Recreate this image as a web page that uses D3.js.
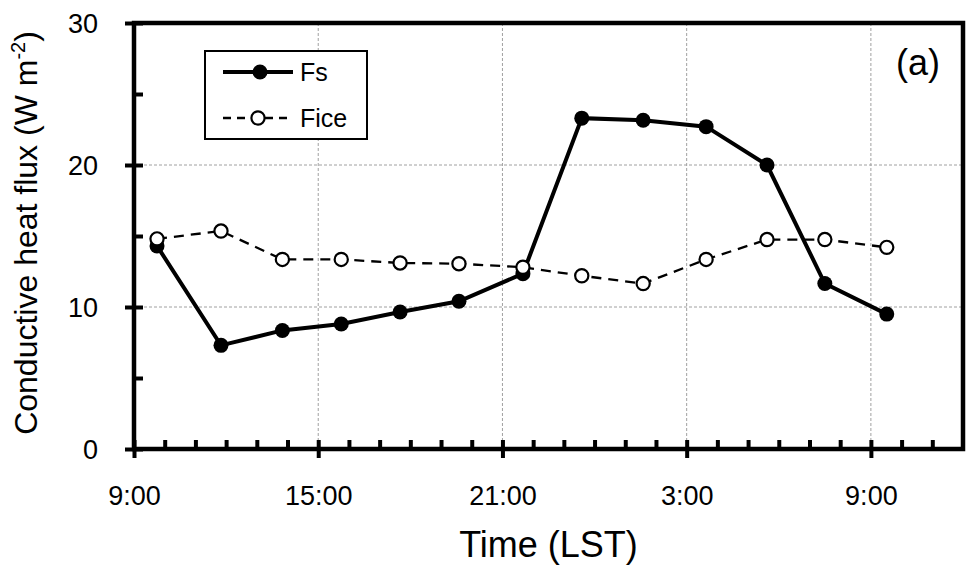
<!DOCTYPE html>
<html>
<head>
<meta charset="utf-8">
<script src="https://cdn.jsdelivr.net/npm/d3@7"></script>
<style>
  body { margin: 0; background: white; }
  text { font-family: "Liberation Sans", Arial, sans-serif; fill: black; }
</style>
</head>
<body>
<script>
const wdth = 969;
const hght = 574;

// sampling times (LST) and fluxes, W m-2
const times = ["9:45", "11:50", "13:50", "15:45", "17:40", "19:35", "21:40", "23:35", "1:35", "3:38", "5:37", "7:30", "9:31"];
const fsValues = [14.3, 7.3, 8.35, 8.8, 9.65, 10.4, 12.35, 23.3, 23.15, 22.7, 20.0, 11.65, 9.5];
const ficeValues = [14.8, 15.35, 13.35, 13.35, 13.1, 13.05, 12.8, 12.2, 11.65, 13.35, 14.75, 14.75, 14.2];

// x axis in hours since 9:00 on day one
const xMajorTicks = [0, 6, 12, 18, 24];
const xTickLabels = ["9:00", "15:00", "21:00", "3:00", "9:00"];
const yMajorTicks = [0, 10, 20, 30];
const yMinorTicks = [5, 15, 25];

const plotLeft = 134, plotRight = 963, plotTop = 23, plotBottom = 449;

// turn the clock strings into elapsed hours, rolling past midnight
function toHours(list) {
  let out = [];
  let prev = -1;
  list.forEach((t) => {
    const parts = t.split(":");
    let h = +parts[0] + parts[1] / 60 - 9;
    while (h < prev) h += 24;
    out.push(h);
    prev = h;
  });
  return out;
}

const hours = toHours(times);
const fsData = hours.map((h, i) => ({ x: h, y: fsValues[i] }));
const ficeData = hours.map((h, i) => ({ x: h, y: ficeValues[i] }));

const x = d3.scaleLinear().domain([0, 27]).range([plotLeft, plotRight]);
const y = d3.scaleLinear().domain([0, 30]).range([plotBottom, plotTop]);

const svg = d3
  .select("body")
  .append("svg")
  .attr("width", wdth)
  .attr("height", hght);

// grid
svg
  .append("g")
  .selectAll("line")
  .data([10, 20])
  .enter()
  .append("line")
  .attr("x1", plotLeft)
  .attr("x2", plotRight)
  .attr("y1", (d) => y(d))
  .attr("y2", (d) => y(d))
  .attr("stroke", "#a0a0a0")
  .attr("stroke-width", 1)
  .attr("stroke-dasharray", "3,2");

svg
  .append("g")
  .selectAll("line")
  .data(xMajorTicks.slice(1))
  .enter()
  .append("line")
  .attr("x1", (d) => x(d))
  .attr("x2", (d) => x(d))
  .attr("y1", plotTop)
  .attr("y2", plotBottom)
  .attr("stroke", "#a0a0a0")
  .attr("stroke-width", 1)
  .attr("stroke-dasharray", "3,2");

// x axis: major ticks cross the axis, minor ones point inward
const xMinor = d3.range(1, 27).filter((h) => h % 6 !== 0);
svg
  .append("g")
  .attr("transform", "translate(0," + plotBottom + ")")
  .call(d3.axisBottom(x).tickValues(xMinor).tickSize(-9).tickFormat(""))
  .call((g) => g.select(".domain").remove())
  .selectAll("line")
  .attr("stroke-width", 4);

svg
  .append("g")
  .attr("transform", "translate(0," + (plotBottom - 9) + ")")
  .call(d3.axisBottom(x).tickValues(xMajorTicks).tickSize(18).tickFormat((d, i) => xTickLabels[i]))
  .call((g) => g.select(".domain").remove())
  .call((g) => g.selectAll("line").attr("stroke-width", 4))
  .call((g) =>
    g
      .selectAll("text")
      .attr("y", 0)
      .attr("dy", 0)
      .attr("transform", "translate(0,65)")
      .style("font-size", "27px")
      .style("font-family", "Liberation Sans, Arial, sans-serif")
  );

// y axis
svg
  .append("g")
  .attr("transform", "translate(" + plotLeft + ",0)")
  .call(d3.axisRight(y).tickValues(yMinorTicks).tickSize(9).tickFormat(""))
  .call((g) => g.select(".domain").remove())
  .selectAll("line")
  .attr("stroke-width", 4);

svg
  .append("g")
  .attr("transform", "translate(" + (plotLeft + 9) + ",0)")
  .call(d3.axisLeft(y).tickValues(yMajorTicks).tickSize(18).tickPadding(20))
  .call((g) => g.select(".domain").remove())
  .call((g) => g.selectAll("line").attr("stroke-width", 4))
  .call((g) =>
    g
      .selectAll("text")
      .attr("x", -45)
      .attr("dy", "0.36em")
      .style("font-size", "27px")
      .style("font-family", "Liberation Sans, Arial, sans-serif")
  );

// frame
svg
  .append("rect")
  .attr("x", plotLeft)
  .attr("y", plotTop)
  .attr("width", plotRight - plotLeft)
  .attr("height", plotBottom - plotTop)
  .attr("fill", "none")
  .attr("stroke", "black")
  .attr("stroke-width", 4.5);

const line = d3
  .line()
  .x((d) => x(d.x))
  .y((d) => y(d.y));

// Fs
svg
  .append("path")
  .datum(fsData)
  .attr("d", line)
  .attr("fill", "none")
  .attr("stroke", "black")
  .attr("stroke-width", 4);

svg
  .append("g")
  .selectAll("circle")
  .data(fsData)
  .enter()
  .append("circle")
  .attr("cx", (d) => x(d.x))
  .attr("cy", (d) => y(d.y))
  .attr("r", 7.5)
  .attr("fill", "black");

// Fice
svg
  .append("path")
  .datum(ficeData)
  .attr("d", line)
  .attr("fill", "none")
  .attr("stroke", "black")
  .attr("stroke-width", 2.3)
  .attr("stroke-dasharray", "10,7");

svg
  .append("g")
  .selectAll("circle")
  .data(ficeData)
  .enter()
  .append("circle")
  .attr("cx", (d) => x(d.x))
  .attr("cy", (d) => y(d.y))
  .attr("r", 6.6)
  .attr("fill", "white")
  .attr("stroke", "black")
  .attr("stroke-width", 2.2);

// legend
const legend = svg.append("g").attr("transform", "translate(205,51)");

legend
  .append("rect")
  .attr("width", 162)
  .attr("height", 88)
  .attr("fill", "white")
  .attr("stroke", "black")
  .attr("stroke-width", 2);

legend
  .append("line")
  .attr("x1", 18)
  .attr("x2", 88)
  .attr("y1", 21)
  .attr("y2", 21)
  .attr("stroke", "black")
  .attr("stroke-width", 4);

legend
  .append("circle")
  .attr("cx", 55)
  .attr("cy", 21)
  .attr("r", 7.5)
  .attr("fill", "black");

legend
  .append("text")
  .attr("x", 95)
  .attr("y", 30)
  .style("font-size", "25px")
  .text("Fs");

legend
  .append("line")
  .attr("x1", 18)
  .attr("x2", 88)
  .attr("y1", 67)
  .attr("y2", 67)
  .attr("stroke", "black")
  .attr("stroke-width", 2.3)
  .attr("stroke-dasharray", "8,6");

legend
  .append("circle")
  .attr("cx", 53)
  .attr("cy", 67)
  .attr("r", 6.6)
  .attr("fill", "white")
  .attr("stroke", "black")
  .attr("stroke-width", 2.2);

legend
  .append("text")
  .attr("x", 95)
  .attr("y", 76)
  .style("font-size", "25px")
  .text("Fice");

// panel label
svg
  .append("text")
  .attr("x", 940)
  .attr("y", 75)
  .attr("text-anchor", "end")
  .style("font-size", "36px")
  .text("(a)");

// axis titles
svg
  .append("text")
  .attr("x", (plotLeft + plotRight) / 2)
  .attr("y", 557)
  .attr("text-anchor", "middle")
  .style("font-size", "36px")
  .text("Time (LST)");

const yTitle = svg
  .append("text")
  .attr("transform", "translate(37," + 233 + ") rotate(-90)")
  .attr("text-anchor", "middle")
  .style("font-size", "32px");

yTitle.append("tspan").text("Conductive heat flux (W m");
yTitle.append("tspan").attr("dy", -12).style("font-size", "20px").text("-2");
yTitle.append("tspan").attr("dy", 12).text(")");
</script>
</body>
</html>
